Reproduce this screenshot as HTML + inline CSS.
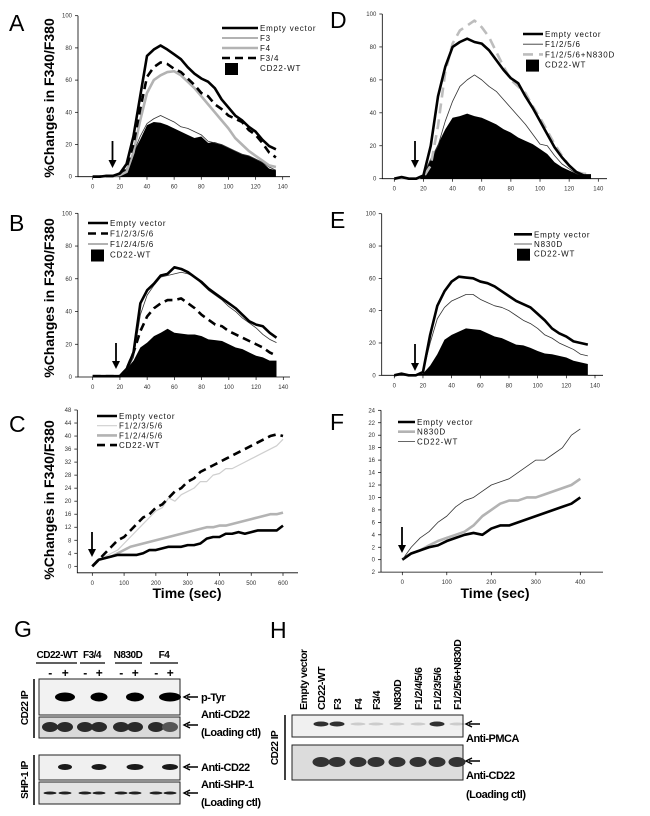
<!DOCTYPE html>
<html><head><meta charset="utf-8"><style>
html,body{margin:0;padding:0;background:#fff;}
svg{display:block;font-family:"Liberation Sans",sans-serif;}
</style></head><body>
<svg id="fig" width="650" height="816" viewBox="0 0 650 816" xmlns="http://www.w3.org/2000/svg"></svg>
<script>
// ---------- data ----------
const xsT = [0,5,10,15,20,25,30,35,40,45,50,55,60,65,70,75,80,85,90,95,100,105,110,115,120,125,130,135];
const xTicks140 = [0,20,40,60,80,100,120,140];
const yTicks100 = [0,20,40,60,80,100];
// A
const aEmpty = [0,0,0.5,0.5,2,8,25,50,75,79,81.5,79,76,73,68,64,61,59,55,48,43,38,35,31,28,23,19,17];
const aF3 = [0,0,0.5,0.5,1,5,15,25,33,36,38,36,34,31,30,28,26,22,21,20,18,16,14,13,11,9,6,4];
const aF4 = [0,0,0.5,0.5,1,3,15,35,52,60,63,65,65.5,63,59,55,50,45,40,35,30,24,20,16,13,10,7,6];
const aF34 = [0,0,0.5,0.5,2,6,20,42,62,68,71,70,67,65,61,57,52,50,45,42,38,36,34,29,26,21,15,12];
const aWT = [0,0,0.5,0.5,1,5,15,23,32,34,33.5,32,30,28,26,24,25,21,21.5,20,18,16,14,13,11,9,5,4];
// B
const bEmpty = [0.5,0.5,0.5,0.5,0.5,5,15,45,53,57,62,63,67,66,64,61,58,54,51,48,45,42,38,34,32,31,27,24];
const bF12356 = [0.5,0.5,0.5,0.5,0.5,5,15,28,37,42,45,47,47,48,45,42,38,35,32,31,28,26,24,22,20,18,15,13];
const bF12456 = [0.5,0.5,0.5,0.5,0.5,4,12,38,50,56,61,62,63,64,63,61,57,53,50,47,43,40,36,33,30,26,23,21];
const bWT = [0,0,0,0,1,5,10,18,21,25,27,29.5,27,26.5,26,26,25,23,22.5,22,20,18,17,15,13,12,10,10];
// C
const xsC = [0,20,40,60,80,100,120,140,160,180,200,220,240,260,280,300,320,340,360,380,400,420,440,460,480,500,520,540,560,580,600];
const cEmpty = [0,2,2.5,3,3.5,3.5,3.5,3.5,4,5,5,5.5,6,6,6,6.5,6.5,7,8.5,9,9,10,10,10.5,10,10.5,11,11,11,11,12.5];
const cF12356 = [0,2,3,4,5,7,9,11,13,15,17,18,21,20,22,23,24,26,26,28,28.5,30,30,31,32,33,34,35,36,37,39];
const cF12456 = [0,2,2.5,3,4,5,6,6.5,7,7.5,8,8.5,9,9.5,10,10.5,11,11.5,12,12,12.5,12.5,13,13.5,14,14.5,15,15.5,16,16,16.5];
const cWT = [0,2,4,6,8,9,11,13,15,16,18,19,21,23,24,26,27,29,30,31,32,33,34,35,36,37,38,39,40,40.5,40];
const xTicksC = [0,100,200,300,400,500,600];
const yTicksC = [0,4,8,12,16,20,24,28,32,36,40,44,48];
// D
const dEmpty = [0,1,0,0,2,20,50,68,80,83,85,83,82,78,72,66,61,58,50,43,35,27,19,13,8,4,2,2];
const dF1256 = [0,0.5,0,0,2,12,20,35,47,56,60,63,60,56,53,48,43,38,33,27,21,20,14,9,6,3,2,2];
const dN830D = [0,0.5,0,0,1,8,32,65,82,90,93,96,92,86,77,68,60,56,52,44,37,29,21,14,8,4,3,3];
const dWT = [0,0.5,0,0,2,12,21,30,37,38,39.5,38,37,35,33,30,28,25,23,21,18,15,10,7,5,3,2,2];
// E
const eEmpty = [0,1,0,0,2,25,43,52,58,61,60.5,60,58,57,55,52,49,46,44,42,38,34,29,26,24,21,20,19];
const eN830D = [0,0.5,0,0,2,20,35,42,46,48,50,50,47,45,43,42,40,37,34,32,29,25,23,20,18,16,13,12];
const eWT = [0,0.5,0,0,1,6,13,22,25,27,29,28.5,28,26,24,23,21,19,18.5,17,15,13.5,13,12,11,9,8,7];
// F
const xsF = [0,20,40,60,80,100,120,140,160,180,200,220,240,260,280,300,320,340,360,380,400];
const fEmpty = [0,1,1.5,2,2.3,3,3.5,4,4.3,4,5,5.5,5.5,6,6.5,7,7.5,8,8.5,9,10];
const fN830D = [0,1,1.5,2.3,3,3.5,4,4.5,5.5,7,8,9,9.5,9.5,10,10,10.5,11,11.5,12,13];
const fWT = [0,2,3.5,4.5,6,7,8.5,9.5,10,11,12,12.5,13,14,15,16,16,17,18,20,21];
const xTicksF = [0,100,200,300,400];
const yTicksF = [-2,0,2,4,6,8,10,12,14,16,18,20,22,24];

// ---------- helpers ----------
const NS = "http://www.w3.org/2000/svg";
const svg = document.getElementById('fig');
function mk(tag, attrs, parent){
  const e = document.createElementNS(NS, tag);
  for (const k in attrs) e.setAttribute(k, attrs[k]);
  (parent||svg).appendChild(e);
  return e;
}
function txt(s, x, y, attrs, parent){
  const e = mk('text', Object.assign({x:x, y:y}, attrs||{}), parent);
  e.textContent = s;
  return e;
}
const STY = {
  empty:{stroke:'#000','stroke-width':2.6},
  thin:{stroke:'#333','stroke-width':0.8},
  gray:{stroke:'#b3b3b3','stroke-width':2.6},
  dash:{stroke:'#000','stroke-width':2.6,'stroke-dasharray':'8,5'},
  gdash:{stroke:'#bdbdbd','stroke-width':2.6,'stroke-dasharray':'10,6'},
  light:{stroke:'#cfcfcf','stroke-width':1.2}
};

function panel(cfg){
  const g = mk('g', {});
  
  
  const sx = v => cfg.px0 + (v - cfg.xmin) / (cfg.xmax - cfg.xmin) * (cfg.px1 - cfg.px0);
  const sy = v => cfg.py0 + (v - cfg.ymin) / (cfg.ymax - cfg.ymin) * (cfg.py1 - cfg.py0);
  const axY = sy(cfg.axisVal);
  const ax = mk('path', {d:`M${cfg.axL},${sy(cfg.ytop)} L${cfg.axL},${axY} L${cfg.axR},${axY}`, fill:'none', stroke:'#000', 'stroke-width':0.8}, g);
  
  
  cfg.xticks.forEach(t => {
    const tk = mk('line', {x1:sx(t), x2:sx(t), y1:axY, y2:axY+3, stroke:'#000','stroke-width':0.7}, g);
    
    
    const lb = txt(String(t), sx(t), axY+12, {'font-size':6,'text-anchor':'middle',fill:'#333'}, g);
    
    
  });
  cfg.yticks.forEach(t => {
    const tk = mk('line', {x1:cfg.axL-3, x2:cfg.axL, y1:sy(t), y2:sy(t), stroke:'#000','stroke-width':0.7}, g);
    
    
    const lb = txt(cfg.ylabFmt ? cfg.ylabFmt(t) : String(t), cfg.axL-6, sy(t)+2, {'font-size':6,'text-anchor':'end',fill:'#333'}, g);
    
    
  });
  cfg.series.forEach(s => {
    if (s.fill){
      let d = `M${sx(s.xs[0])},${sy(0)}`;
      s.xs.forEach((x,i)=>{ d += ` L${sx(x)},${sy(s.ys[i])}`; });
      d += ` L${sx(s.xs[s.xs.length-1])},${sy(0)} Z`;
      const p = mk('path', {d:d, fill:'#000'}, g);
      
      
    } else {
      let d = '';
      s.xs.forEach((x,i)=>{ d += (i?' L':'M') + sx(x) + ',' + sy(s.ys[i]); });
      const p = mk('path', Object.assign({d:d, fill:'none','stroke-linejoin':'round'}, STY[s.style]), g);
      
      
    }
  });
  cfg.legend.items.forEach((it, i) => {
    const y = cfg.legend.y + i * cfg.legend.dy;
    if (it.style === 'box'){
      const b = mk('rect', {x:cfg.legend.x+3, y:y-5, width:13, height:12, fill:'#000'}, g);
      
      
    } else {
      const l = mk('line', Object.assign({x1:cfg.legend.x, x2:cfg.legend.x+cfg.legend.w, y1:y, y2:y}, STY[it.style]), g);
      
      
    }
    const t = txt(it.label, cfg.legend.x+cfg.legend.w+2, y+3, {'font-size':8,'letter-spacing':0.8,fill:'#111'}, g);
    
    
  });
  const ar = cfg.arrow;
  const al = mk('line', {x1:ar.x, x2:ar.x, y1:ar.y1, y2:ar.y2-6, stroke:'#000','stroke-width':1.8}, g);
  
  
  const ah = mk('path', {d:`M${ar.x-4},${ar.y2-8} L${ar.x+4},${ar.y2-8} L${ar.x},${ar.y2} Z`, fill:'#000'}, g);
  
  
  const L = txt(cfg.id, cfg.letter[0], cfg.letter[1], {'font-size':23,fill:'#000'}, g);
  
  
  if (cfg.ytitle){
    const yt = txt('%Changes in F340/F380', 0, 0, {'font-size':14,'font-weight':'bold','text-anchor':'middle',transform:`translate(${cfg.ytitle[0]},${cfg.ytitle[1]}) rotate(-90)`}, g);
    
    
  }
  if (cfg.xtitle){
    const xt = txt('Time (sec)', cfg.xtitle[0], cfg.xtitle[1], {'font-size':14,'font-weight':'bold','text-anchor':'middle'}, g);
    
    
  }
}

panel({id:'A', px0:92.7, px1:282.7, xmin:0, xmax:140, py0:176.7, py1:15.7, ymin:0, ymax:100, ytop:100, axisVal:0, axL:78, axR:290,
  xticks:xTicks140, yticks:yTicks100, letter:[9,31], ytitle:[54,98],
  arrow:{x:112.5,y1:141,y2:168},
  legend:{x:222,y:28,dy:10,w:36,items:[{label:'Empty vector',style:'empty'},{label:'F3',style:'thin'},{label:'F4',style:'gray'},{label:'F3/4',style:'dash'},{label:'CD22-WT',style:'box'}]},
  series:[{name:'cd22-wt',xs:xsT,ys:aWT,fill:true},{name:'f3',xs:xsT,ys:aF3,style:'thin'},{name:'f4',xs:xsT,ys:aF4,style:'gray'},{name:'f3-4',xs:xsT,ys:aF34,style:'dash'},{name:'empty-vector',xs:xsT,ys:aEmpty,style:'empty'}]});

panel({id:'B', px0:92.7, px1:283.3, xmin:0, xmax:140, py0:377, py1:213.3, ymin:0, ymax:100, ytop:100, axisVal:0, axL:78, axR:290,
  xticks:xTicks140, yticks:yTicks100, letter:[9,231], ytitle:[54,298],
  arrow:{x:116,y1:343,y2:369},
  legend:{x:88,y:223,dy:10.5,w:20,items:[{label:'Empty vector',style:'empty'},{label:'F1/2/3/5/6',style:'dash'},{label:'F1/2/4/5/6',style:'thin'},{label:'CD22-WT',style:'box'}]},
  series:[{name:'cd22-wt',xs:xsT,ys:bWT,fill:true},{name:'f1-2-3-5-6',xs:xsT,ys:bF12356,style:'dash'},{name:'f1-2-4-5-6',xs:xsT,ys:bF12456,style:'thin'},{name:'empty-vector',xs:xsT,ys:bEmpty,style:'empty'}]});

panel({id:'C', px0:92.3, px1:283, xmin:0, xmax:600, py0:566.3, py1:410, ymin:0, ymax:48, ytop:48, axisVal:-2, axL:77.3, axR:298,
  xticks:xTicksC, yticks:yTicksC, letter:[9,432], ytitle:[54,500], xtitle:[187,598],
  arrow:{x:92,y1:532,y2:557},
  legend:{x:97,y:416,dy:9.7,w:20,items:[{label:'Empty vector',style:'empty'},{label:'F1/2/3/5/6',style:'light'},{label:'F1/2/4/5/6',style:'gray'},{label:'CD22-WT',style:'dash'}]},
  series:[{name:'f1-2-3-5-6',xs:xsC,ys:cF12356,style:'light'},{name:'f1-2-4-5-6',xs:xsC,ys:cF12456,style:'gray'},{name:'empty-vector',xs:xsC,ys:cEmpty,style:'empty'},{name:'cd22-wt',xs:xsC,ys:cWT,style:'dash'}]});

panel({id:'D', px0:394.3, px1:598.3, xmin:0, xmax:140, py0:178.7, py1:14, ymin:0, ymax:100, ytop:100, axisVal:0, axL:382.3, axR:607,
  xticks:xTicks140, yticks:yTicks100, letter:[330,28],
  arrow:{x:415,y1:141,y2:168},
  legend:{x:523,y:34,dy:10.2,w:20,items:[{label:'Empty vector',style:'empty'},{label:'F1/2/5/6',style:'thin'},{label:'F1/2/5/6+N830D',style:'gdash'},{label:'CD22-WT',style:'box'}]},
  series:[{name:'cd22-wt',xs:xsT,ys:dWT,fill:true},{name:'f1-2-5-6',xs:xsT,ys:dF1256,style:'thin'},{name:'f1-2-5-6-n830d',xs:xsT,ys:dN830D,style:'gdash'},{name:'empty-vector',xs:xsT,ys:dEmpty,style:'empty'}]});

panel({id:'E', px0:394.3, px1:595, xmin:0, xmax:140, py0:375.3, py1:213.7, ymin:0, ymax:100, ytop:100, axisVal:0, axL:381.7, axR:603,
  xticks:xTicks140, yticks:yTicks100, letter:[330,228],
  arrow:{x:415,y1:344,y2:371},
  legend:{x:514,y:234.3,dy:9.7,w:18,items:[{label:'Empty vector',style:'empty'},{label:'N830D',style:'thin'},{label:'CD22-WT',style:'box'}]},
  series:[{name:'cd22-wt',xs:xsT,ys:eWT,fill:true},{name:'n830d',xs:xsT,ys:eN830D,style:'thin'},{name:'empty-vector',xs:xsT,ys:eEmpty,style:'empty'}]});

panel({id:'F', px0:402.3, px1:580.3, xmin:0, xmax:400, py0:559.7, py1:410.3, ymin:0, ymax:24, ytop:24, axisVal:-2, axL:381, axR:603,
  xticks:xTicksF, yticks:yTicksF, letter:[330,430], xtitle:[495,598], ylabFmt:t=>String(Math.abs(t)),
  arrow:{x:402,y1:527,y2:553},
  legend:{x:398,y:422,dy:9.7,w:17,items:[{label:'Empty vector',style:'empty'},{label:'N830D',style:'gray'},{label:'CD22-WT',style:'thin'}]},
  series:[{name:'n830d',xs:xsF,ys:fN830D,style:'gray'},{name:'empty-vector',xs:xsF,ys:fEmpty,style:'empty'},{name:'cd22-wt',xs:xsF,ys:fWT,style:'thin'}]});

// ---------- blots ----------
const FB = {'font-family':'"Liberation Sans",sans-serif','font-weight':'bold','letter-spacing':-0.5};
function t2(s,x,y,size,extra,name){
  const e = txt(s,x,y,Object.assign({'font-size':size},FB,extra||{}));
  
  
  return e;
}
function arrowL(x,y,name){
  const p = mk('path',{d:`M${x+14},${y} L${x+3},${y} M${x+6},${y-3} L${x},${y} L${x+6},${y+3}`,stroke:'#000','stroke-width':1.4,fill:'none'});
  
  
}
function box(x,y,w,h,fillc,name){
  const r = mk('rect',{x:x,y:y,width:w,height:h,fill:fillc,stroke:'#222','stroke-width':1});
  
  
}
function band(cx,cy,w,h,col,name){
  const e = mk('ellipse',{cx:cx,cy:cy,rx:w/2,ry:h/2,fill:col});
  
  
}
// G
const gL = txt('G',14,637,{'font-size':23});


const gHeads = ['CD22-WT','F3/4','N830D','F4'];
const gHeadX = [57,92,128,164];
const gUL = [[36,77],[80,105],[115,142],[150,178]];
const laneX = [50,65,85,99,121,135,156,170];
gHeads.forEach((h,i)=>{
  t2(h,gHeadX[i],658,10,{'text-anchor':'middle'},'lane-group-label');
  const u = mk('line',{x1:gUL[i][0],x2:gUL[i][1],y1:663,y2:663,stroke:'#000','stroke-width':1.3});
  
  
});
laneX.forEach((x,i)=>{ t2(i%2?'+':'-',x,677,12,{'text-anchor':'middle'},'treatment-sign'); });
box(39,679,141,36,'#f2f2f2','blot-ptyr');
box(39,717,141,21,'#d9d9d9','blot-cd22-loading');
box(39,755,141,25,'#f0f0f0','blot-shp1-cd22');
box(39,782,141,22,'#e4e4e4','blot-shp1-loading');
[65,99,135,170].forEach((x,i)=>{ band(x,697,[20,17,18,22][i],9,'#000','band-ptyr'); });
laneX.forEach((x,i)=>{ band(x,727,16,10,i>6?'#555':'#2a2a2a','band-cd22-loading'); });
[65,99,135,170].forEach((x,i)=>{ band(x,767,[14,15,17,16][i],6,'#1a1a1a','band-shp1-cd22'); });
laneX.forEach(x=>{ band(x,793,13,3,'#222','band-shp1-loading'); });
const v1 = mk('line',{x1:34,x2:34,y1:679,y2:738,stroke:'#000','stroke-width':1.5});


const v2 = mk('line',{x1:34,x2:34,y1:755,y2:805,stroke:'#000','stroke-width':1.5});


t2('CD22 IP',0,0,10,{'text-anchor':'middle',transform:'translate(28,708) rotate(-90)'},'ip-label');
t2('SHP-1 IP',0,0,10,{'text-anchor':'middle',transform:'translate(28,780) rotate(-90)'},'ip-label');
arrowL(184,697,'band-arrow'); t2('p-Tyr',201,701,11,{},'blot-label');
arrowL(184,725,'band-arrow'); t2('Anti-CD22',201,718,11,{},'blot-label'); t2('(Loading ctl)',201,736,11,{},'blot-label');
arrowL(184,767,'band-arrow'); t2('Anti-CD22',201,771,11,{},'blot-label');
arrowL(184,793,'band-arrow'); t2('Anti-SHP-1',201,788,11,{},'blot-label'); t2('(Loading ctl)',201,806,11,{},'blot-label');
// H
const hL = txt('H',270,638,{'font-size':23});


const hLanes = ['Empty vector','CD22-WT','F3','F4','F3/4','N830D','F1/2/4/5/6','F1/2/3/5/6','F1/2/5/6+N830D'];
const hX = [307,325,341,362,380,401,422,441,461];
const hPMCA = [0,1,1,0.1,0.03,0.05,0.12,0.9,0.2];
hLanes.forEach((s,i)=>{ t2(s,0,0,10.5,{transform:`translate(${hX[i]},710) rotate(-90)`},'lane-label'); });
box(292,715,171,22,'#f0f0f0','blot-pmca');
box(292,745,171,35,'#dcdcdc','blot-cd22-loading-h');
hLanes.forEach((s,i)=>{
  const a = hPMCA[i];
  if (a>0){ band(hX[i]-4,724,15,a>0.5?5:3,`rgba(0,0,0,${a>0.5?0.8:0.15})`,'band-pmca'); }
  if (i>0){ band(hX[i]-4,762,17,10,'#333','band-cd22-h'); }
});
const v3 = mk('line',{x1:285,x2:285,y1:715,y2:780,stroke:'#000','stroke-width':1.5});


t2('CD22 IP',0,0,10,{'text-anchor':'middle',transform:'translate(278,748) rotate(-90)'},'ip-label');
arrowL(466,724,'band-arrow'); t2('Anti-PMCA',466,742,11,{},'blot-label');
arrowL(466,761,'band-arrow'); t2('Anti-CD22',466,779,11,{},'blot-label'); t2('(Loading ctl)',466,798,11,{},'blot-label');
</script>
</body></html>
